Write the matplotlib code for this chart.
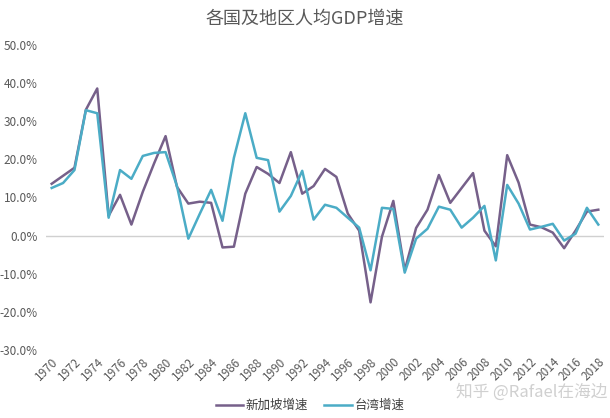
import numpy as np
import matplotlib
matplotlib.use("Agg")
import matplotlib.pyplot as plt

plt.rcParams['font.family'] = ['Noto Sans CJK SC', 'DejaVu Sans']

years = list(range(1970, 2019))
singapore = [13.6, 15.7, 17.8, 33.0, 38.6, 5.2, 10.7, 2.9, 11.5, 19.0,
             26.1, 12.8, 8.4, 8.9, 8.6, -3.1, -2.9, 11.0, 18.0, 16.2,
             13.8, 21.9, 11.0, 13.0, 17.5, 15.4, 5.8, 1.3, -17.5, -0.3,
             9.1, -9.1, 2.0, 6.8, 15.9, 8.6, 12.5, 16.4, 1.3, -2.8,
             21.1, 13.9, 2.9, 2.2, 0.8, -3.3, 1.3, 6.3, 6.8]
taiwan = [12.5, 13.8, 17.2, 32.9, 32.1, 4.7, 17.2, 14.9, 20.9, 21.7,
          21.9, 13.0, -0.8, 5.7, 12.0, 3.9, 20.4, 32.1, 20.4, 19.8,
          6.3, 10.4, 17.0, 4.2, 8.1, 7.3, 4.7, 2.1, -9.1, 7.3,
          7.0, -9.7, -0.8, 1.8, 7.6, 6.8, 2.1, 4.7, 7.8, -6.5,
          13.3, 8.4, 1.6, 2.3, 3.1, -1.3, 0.5, 7.3, 2.9]
series_names = ['新加坡增速', '台湾增速']
y_ticks = [-30, -20, -10, 0, 10, 20, 30, 40, 50]

fig = plt.figure(figsize=(6.1, 4.18), dpi=100)
ax = fig.add_axes([46 / 610, 1 - 350 / 418, 558 / 610, 305 / 418])

x = np.arange(len(years))
ax.plot(x, singapore, color='#76608a', lw=1.8, label=series_names[0])
ax.plot(x, taiwan, color='#4bacc6', lw=1.8, label=series_names[1])
ax.axhline(0, color='#d0d0d0', lw=1, zorder=0)

ax.set_xlim(-0.5, len(years) - 0.5)
ax.set_ylim(-30, 50)
ax.set_yticks(y_ticks)
ax.set_yticklabels(['%.1f%%' % v for v in y_ticks])
ax.set_xticks(x[::2])
ax.set_xticklabels([str(y) for y in years[::2]], rotation=45, ha='right',
                   rotation_mode='anchor')
ax.tick_params(axis='both', length=0, colors='#595959', labelsize=8.5)
ax.tick_params(axis='y', pad=6)
ax.tick_params(axis='x', pad=4)
for s in ax.spines.values():
    s.set_visible(False)

fig.text(0.5, 0.955, '各国及地区人均GDP增速', ha='center', va='center',
         fontsize=13, color='#595959')
# watermark
fig.text(0.872, 0.062, '知乎 @Rafael在海边', ha='center', va='center',
         fontsize=12, color='#d0d0d0')

fig.legend(loc='center', bbox_to_anchor=(0.508, 0.03), ncol=2, frameon=False,
           fontsize=9, handlelength=2.2, columnspacing=1.3,
           labelcolor='#404040', handletextpad=0.2)

fig.savefig('out.png', dpi=100)
